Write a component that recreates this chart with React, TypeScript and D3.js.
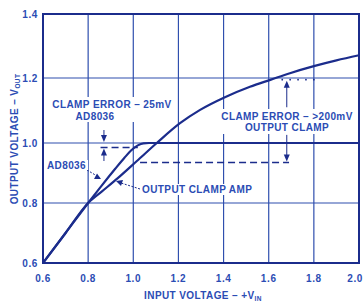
import React from "react";
import * as d3 from "d3";

const xTicks = [0.6, 0.8, 1.0, 1.2, 1.4, 1.6, 1.8, 2.0];
const yTicks = [0.6, 0.8, 1.0, 1.2, 1.4];
const xTickLabels = ["0.6", "0.8", "1.0", "1.2", "1.4", "1.6", "1.8", "2.0"];
const yTickLabels = ["0.6", "0.8", "1.0", "1.2", "1.4"];

const ad8036X = [0.6, 0.7, 0.8, 0.86, 0.92, 0.96, 0.99, 1.02, 1.045, 1.07, 1.2, 1.4, 1.6, 1.8, 2.0];
const ad8036Y = [0.6, 0.7, 0.8, 0.858, 0.914, 0.95, 0.975, 0.992, 0.999, 1.0, 1.0, 1.0, 1.0, 1.0, 1.0];

const clampX = [0.6, 0.7, 0.8, 0.86, 0.93, 1.016, 1.104, 1.207, 1.296, 1.406, 1.517, 1.61, 1.694, 1.8, 1.9, 2.0];
const clampY = [0.6, 0.7, 0.8, 0.838, 0.882, 0.94, 1.0, 1.061, 1.102, 1.141, 1.173, 1.195, 1.215, 1.237, 1.255, 1.271];

// annotation values
const adErrLevel = 0.985;
const adErrX = [0.855, 1.02];
const adArrowX = 0.87;
const clampErrLevel = 0.935;
const clampErrX = [1.03, 1.69];
const clampTopLevel = 1.195;
const clampTopX = [1.66, 1.81];
const clampArrowX = 1.68;

const LINE = "#1b2c8c";
const GRID = "#2f4fae";
const TEXT = "#2b4cb4";

export default function App() {
  const x = d3.scaleLinear().domain([0.6, 2.0]).range([43, 359]);
  const y = d3
    .scaleLinear()
    .domain([0.6, 0.8, 1.0, 1.2, 1.4])
    .range([263, 203, 143, 78, 14]);

  const line = d3
    .line<[number, number]>()
    .x((d) => x(d[0]))
    .y((d) => y(d[1]))
    .curve(d3.curveMonotoneX);

  const adPts = ad8036X.map((v, i) => [v, ad8036Y[i]] as [number, number]);
  const clPts = clampX.map((v, i) => [v, clampY[i]] as [number, number]);

  const font = "'Liberation Sans', Arial, sans-serif";
  const txt = {
    fill: TEXT,
    fontFamily: font,
    fontWeight: 700 as const,
    fontSize: 10,
    letterSpacing: 0.4,
  };
  const tick = { ...txt, letterSpacing: 0.6 };

  const arrowHead = (px: number, py: number, dir: 1 | -1) =>
    `M${px},${py} L${px - 3},${py - 7 * dir} L${px + 3},${py - 7 * dir} Z`;

  const [x0, x1] = x.range();
  const [yb, yt] = [y(0.6), y(1.4)];

  const dots: number[] = [];
  for (let v = clampTopX[0]; v <= clampTopX[1] + 1e-9; v += 0.035) dots.push(v);

  return (
    <svg width={364} height={301} style={{ position: "absolute", left: 0, top: 0, background: "#fff" }}>
      {xTicks.map((t) => (
        <line key={"gx" + t} x1={x(t)} x2={x(t)} y1={yt} y2={yb} stroke={GRID} strokeWidth={1.2} />
      ))}
      {yTicks.map((t) => (
        <line key={"gy" + t} x1={x0} x2={x1} y1={y(t)} y2={y(t)} stroke={GRID} strokeWidth={1.2} />
      ))}
      <rect x={x0} y={yt} width={x1 - x0} height={yb - yt} fill="none" stroke={LINE} strokeWidth={2} />

      {yTicks.map((t, i) => (
        <text key={"yl" + t} x={38} y={y(t) + 3.5} textAnchor="end" style={tick}>
          {yTickLabels[i]}
        </text>
      ))}
      {xTicks.map((t, i) => {
        const last = i === xTicks.length - 1;
        return (
          <text key={"xl" + t} x={last ? 363 : x(t)} y={282} textAnchor={last ? "end" : "middle"} style={tick}>
            {xTickLabels[i]}
          </text>
        );
      })}

      <text x={203} y={299} textAnchor="middle" style={txt}>
        INPUT VOLTAGE – +V
        <tspan fontSize={6.5} dy={2}>IN</tspan>
      </text>
      <text transform="translate(18,139) rotate(-90)" textAnchor="middle" style={txt}>
        OUTPUT VOLTAGE – V
        <tspan fontSize={6.5} dy={2}>OUT</tspan>
      </text>

      <line x1={x(adErrX[0])} x2={x(adErrX[1])} y1={y(adErrLevel)} y2={y(adErrLevel)} stroke={LINE} strokeWidth={1.4} strokeDasharray="7 4" />
      <line x1={x(clampErrX[0])} x2={x(clampErrX[1])} y1={y(clampErrLevel)} y2={y(clampErrLevel)} stroke={LINE} strokeWidth={1.4} strokeDasharray="7 4" />
      {dots.map((v, i) => (
        <circle key={"d" + i} cx={x(v)} cy={y(clampTopLevel)} r={0.9} fill={LINE} />
      ))}

      <path d={line(clPts) || ""} fill="none" stroke={LINE} strokeWidth={2.2} />
      <path d={line(adPts) || ""} fill="none" stroke={LINE} strokeWidth={2.2} />

      <line x1={x(adArrowX)} x2={x(adArrowX)} y1={y(1.04)} y2={y(1.0) - 4} stroke={LINE} strokeWidth={1} />
      <path d={arrowHead(x(adArrowX), y(1.0) - 1, 1)} fill={LINE} />
      <line x1={x(adArrowX)} x2={x(adArrowX)} y1={y(0.94)} y2={y(adErrLevel) + 4} stroke={LINE} strokeWidth={1} />
      <path d={arrowHead(x(adArrowX), y(adErrLevel) + 1, -1)} fill={LINE} />

      <line x1={x(clampArrowX)} x2={x(clampArrowX)} y1={y(1.11)} y2={y(clampTopLevel) + 4} stroke={LINE} strokeWidth={1} />
      <path d={arrowHead(x(clampArrowX), y(clampTopLevel) + 1, -1)} fill={LINE} />
      <line x1={x(clampArrowX)} x2={x(clampArrowX)} y1={y(1.025)} y2={y(clampErrLevel) - 4} stroke={LINE} strokeWidth={1} />
      <path d={arrowHead(x(clampArrowX), y(clampErrLevel) - 1, 1)} fill={LINE} />

      <line x1={87} y1={170} x2={97} y2={176} stroke={LINE} strokeWidth={1} strokeDasharray="2 1.5" />
      <path d="M101,179 L94,179 L97,173.5 Z" fill={LINE} />
      <line x1={140} y1={189} x2={121} y2={183} stroke={LINE} strokeWidth={1} strokeDasharray="2 1.5" />
      <path d="M116,181 L123,180 L121,186 Z" fill={LINE} />

      <rect x={51} y={97} width={124} height={25} fill="#fff" />
      <text x={112} y={108} textAnchor="middle" style={txt}>CLAMP ERROR – 25mV</text>
      <text x={95} y={119.5} textAnchor="middle" style={txt}>AD8036</text>
      <rect x={45} y={160} width={43} height={10} fill="#fff" />
      <text x={66.5} y={169} textAnchor="middle" style={txt}>AD8036</text>
      <rect x={141} y={184} width={114} height={11} fill="#fff" />
      <text x={142} y={193} style={txt}>OUTPUT CLAMP AMP</text>
      <rect x={219} y={109} width={137} height={25} fill="#fff" />
      <text x={287} y={120} textAnchor="middle" style={txt}>CLAMP ERROR – &gt;200mV</text>
      <text x={287} y={131} textAnchor="middle" style={txt}>OUTPUT CLAMP</text>
    </svg>
  );
}
